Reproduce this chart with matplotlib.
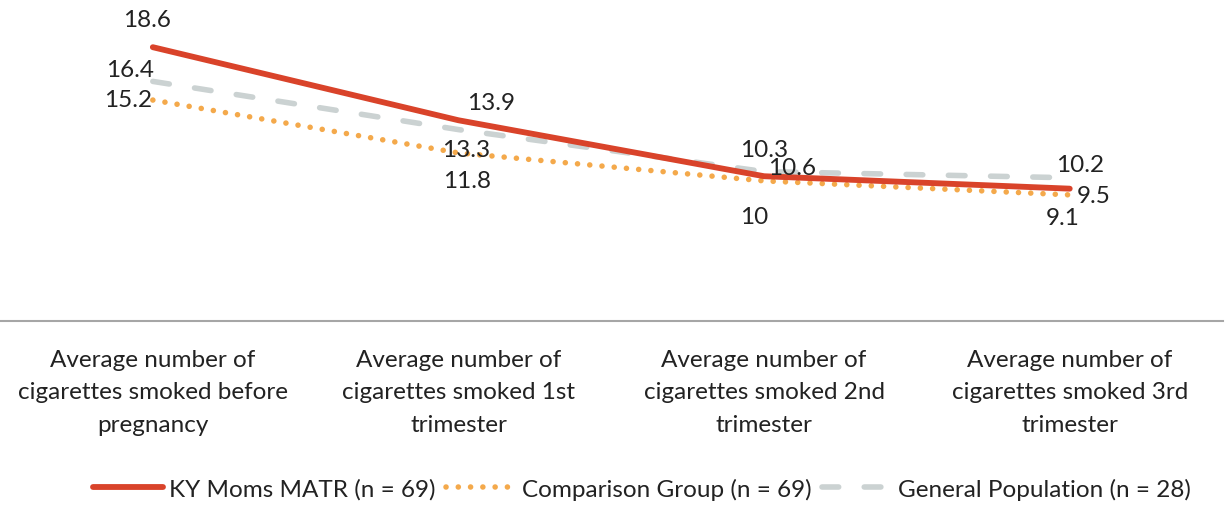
import matplotlib
matplotlib.use("Agg")
import matplotlib.pyplot as plt

plt.rcParams['font.family'] = ['Lato', 'DejaVu Sans']

categories = ["Average number of\ncigarettes smoked before\npregnancy",
              "Average number of\ncigarettes smoked 1st\ntrimester",
              "Average number of\ncigarettes smoked 2nd\ntrimester",
              "Average number of\ncigarettes smoked 3rd\ntrimester"]
ky_moms = [18.6, 13.9, 10.3, 9.5]
comparison = [15.2, 11.8, 10, 9.1]
general = [16.4, 13.3, 10.6, 10.2]

# label offsets in pixels (dx, dy) per point
off_ky = [(-6, 28), (33, 18), (0, 27), (24, -7)]
off_cmp = [(-25, 1), (9, -28), (-10, -36), (-7, -23)]
off_gen = [(-23, 12), (8, -20), (28, 4), (10, 13)]

fig = plt.figure(figsize=(12.25, 5.06), dpi=100)
ax = fig.add_axes([0, 0.364, 0.998, 0.636])
x = range(len(categories))

ax.plot(x, ky_moms, color="#D9432A", lw=4.2, solid_capstyle="round",
        label="KY Moms MATR (n = 69)", zorder=3)
ax.plot(x, comparison, color="#F4A94B", lw=4, linestyle=(0, (0.01, 2.2)),
        dash_capstyle="round", label="Comparison Group (n = 69)", zorder=2)
ax.plot(x, general, color="#CBD2D2", lw=4, linestyle=(0, (3.0, 4.6)),
        dash_capstyle="round", label="General Population (n = 28)", zorder=1)

for vals, offs in [(ky_moms, off_ky), (comparison, off_cmp), (general, off_gen)]:
    for i, v in enumerate(vals):
        ax.annotate(f"{v:g}", (i, v), xytext=offs[i], textcoords="offset pixels",
                    ha="center", va="center", fontsize=17.5, color="#222222")

ax.set_xlim(-0.5, 3.5)
ax.set_ylim(1.0, 21.7)
ax.set_yticks([])
ax.set_xticks(list(x))
ax.set_xticklabels(categories, fontsize=17.5, color="#222222", linespacing=1.68)
ax.tick_params(axis="x", length=0, pad=20)
for s in ["top", "right", "left"]:
    ax.spines[s].set_visible(False)
ax.spines["bottom"].set_color("#A6A6A6")
ax.spines["bottom"].set_linewidth(1.5)

fig.legend(loc="center", bbox_to_anchor=(0.524, 0.032), ncol=3, frameon=False,
           fontsize=17.5, handlelength=2.9, columnspacing=0.4, handletextpad=0.25,
           labelcolor="#222222")

fig.savefig("out.png", dpi=100)
